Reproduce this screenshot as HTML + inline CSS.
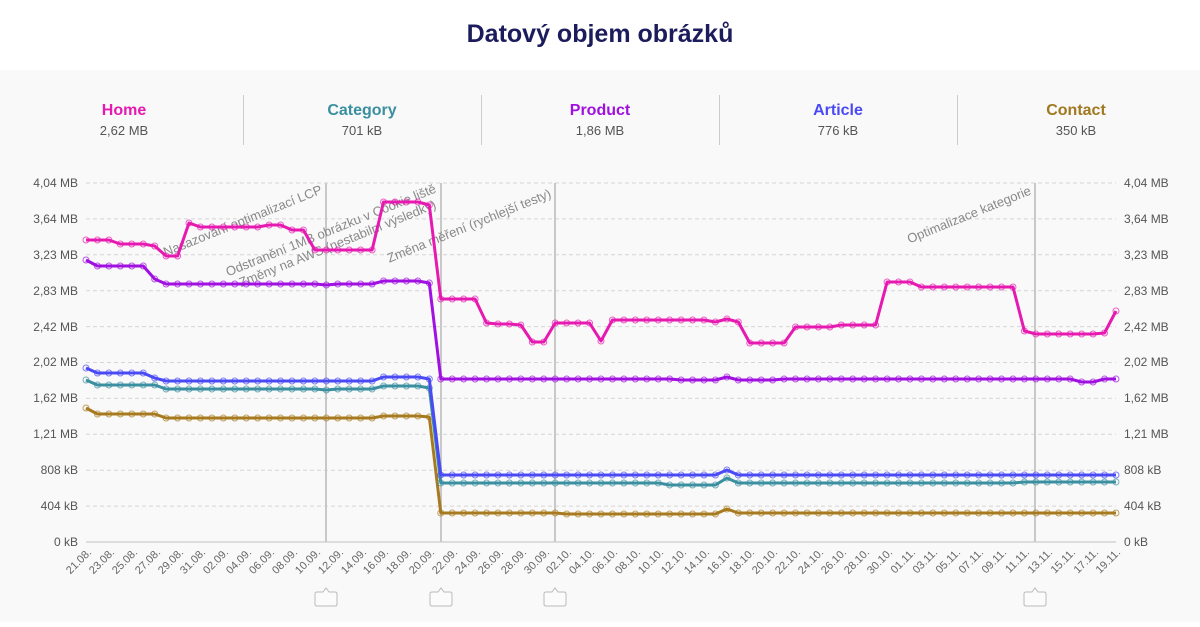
<!DOCTYPE html>
<html><head><meta charset="utf-8"><style>
body{margin:0;width:1200px;height:622px;overflow:hidden;background:#fff;font-family:"Liberation Sans",sans-serif}
</style></head><body>
<svg id="s" width="1200" height="622" xmlns="http://www.w3.org/2000/svg" font-family="Liberation Sans, sans-serif">
<rect x="0" y="70" width="1200" height="552" fill="#f9f9f9"/>
<text x="600" y="42" text-anchor="middle" font-size="25" font-weight="bold" fill="#1c1c5c">Datový objem obrázků</text>
<g font-size="16" font-weight="bold" text-anchor="middle">
<text x="124" y="115" fill="#e619b0">Home</text>
<text x="362" y="115" fill="#3a8fa0">Category</text>
<text x="600" y="115" fill="#a010e0">Product</text>
<text x="838" y="115" fill="#4a4af5">Article</text>
<text x="1076" y="115" fill="#a07820">Contact</text>
</g>
<g font-size="13" text-anchor="middle" fill="#555">
<text x="124" y="135">2,62 MB</text><text x="362" y="135">701 kB</text><text x="600" y="135">1,86 MB</text><text x="838" y="135">776 kB</text><text x="1076" y="135">350 kB</text>
</g>
<g stroke="#ccc" stroke-width="1"><line x1="243.5" y1="95" x2="243.5" y2="145"/><line x1="481.5" y1="95" x2="481.5" y2="145"/><line x1="719.5" y1="95" x2="719.5" y2="145"/><line x1="957.5" y1="95" x2="957.5" y2="145"/></g>
<g id="grid" stroke="#d5d5d5" stroke-dasharray="4,3"></g>
<line x1="86" y1="542" x2="1116" y2="542" stroke="#ddd" stroke-width="2"/>
<g stroke="#c8c8c8" stroke-width="2"><line x1="326" y1="183" x2="326" y2="542"/><line x1="441" y1="183" x2="441" y2="542"/><line x1="555" y1="183" x2="555" y2="542"/><line x1="1035" y1="183" x2="1035" y2="542"/></g>
<g font-size="12" fill="#555" text-anchor="end">
<text x="78" y="187">4,04 MB</text><text x="78" y="223">3,64 MB</text><text x="78" y="259">3,23 MB</text><text x="78" y="295">2,83 MB</text><text x="78" y="331">2,42 MB</text><text x="78" y="366">2,02 MB</text><text x="78" y="402">1,62 MB</text><text x="78" y="438">1,21 MB</text><text x="78" y="474">808 kB</text><text x="78" y="510">404 kB</text><text x="78" y="546">0 kB</text>
</g>
<g font-size="12" fill="#555">
<text x="1124" y="187">4,04 MB</text><text x="1124" y="223">3,64 MB</text><text x="1124" y="259">3,23 MB</text><text x="1124" y="295">2,83 MB</text><text x="1124" y="331">2,42 MB</text><text x="1124" y="366">2,02 MB</text><text x="1124" y="402">1,62 MB</text><text x="1124" y="438">1,21 MB</text><text x="1124" y="474">808 kB</text><text x="1124" y="510">404 kB</text><text x="1124" y="546">0 kB</text>
</g>
<g font-size="13" fill="#888">
<text transform="translate(323,193) rotate(-22)" text-anchor="end">Nasazování optimalizací LCP</text>
<text transform="translate(437,192) rotate(-22)" text-anchor="end">Odstranění 1MB obrázku v Cookie liště</text>
<text transform="translate(437,208) rotate(-22)" text-anchor="end">Změny na AWS (nestabilní výsledky)</text>
<text transform="translate(552,197) rotate(-22)" text-anchor="end">Změna měření (rychlejší testy)</text>
<text transform="translate(1032,194) rotate(-22)" text-anchor="end">Optimalizace kategorie</text>
</g>
<g id="xl" font-size="11" fill="#666" text-anchor="end">
<text transform="translate(92,553) rotate(-45)">21.08.</text><text transform="translate(115,553) rotate(-45)">23.08.</text><text transform="translate(138,553) rotate(-45)">25.08.</text><text transform="translate(161,553) rotate(-45)">27.08.</text><text transform="translate(184,553) rotate(-45)">29.08.</text><text transform="translate(206,553) rotate(-45)">31.08.</text><text transform="translate(229,553) rotate(-45)">02.09.</text><text transform="translate(252,553) rotate(-45)">04.09.</text><text transform="translate(275,553) rotate(-45)">06.09.</text><text transform="translate(298,553) rotate(-45)">08.09.</text><text transform="translate(321,553) rotate(-45)">10.09.</text><text transform="translate(344,553) rotate(-45)">12.09.</text><text transform="translate(367,553) rotate(-45)">14.09.</text><text transform="translate(389,553) rotate(-45)">16.09.</text><text transform="translate(412,553) rotate(-45)">18.09.</text><text transform="translate(435,553) rotate(-45)">20.09.</text><text transform="translate(458,553) rotate(-45)">22.09.</text><text transform="translate(481,553) rotate(-45)">24.09.</text><text transform="translate(504,553) rotate(-45)">26.09.</text><text transform="translate(527,553) rotate(-45)">28.09.</text><text transform="translate(550,553) rotate(-45)">30.09.</text><text transform="translate(572,553) rotate(-45)">02.10.</text><text transform="translate(595,553) rotate(-45)">04.10.</text><text transform="translate(618,553) rotate(-45)">06.10.</text><text transform="translate(641,553) rotate(-45)">08.10.</text><text transform="translate(664,553) rotate(-45)">10.10.</text><text transform="translate(687,553) rotate(-45)">12.10.</text><text transform="translate(710,553) rotate(-45)">14.10.</text><text transform="translate(733,553) rotate(-45)">16.10.</text><text transform="translate(755,553) rotate(-45)">18.10.</text><text transform="translate(778,553) rotate(-45)">20.10.</text><text transform="translate(801,553) rotate(-45)">22.10.</text><text transform="translate(824,553) rotate(-45)">24.10.</text><text transform="translate(847,553) rotate(-45)">26.10.</text><text transform="translate(870,553) rotate(-45)">28.10.</text><text transform="translate(893,553) rotate(-45)">30.10.</text><text transform="translate(916,553) rotate(-45)">01.11.</text><text transform="translate(938,553) rotate(-45)">03.11.</text><text transform="translate(961,553) rotate(-45)">05.11.</text><text transform="translate(984,553) rotate(-45)">07.11.</text><text transform="translate(1007,553) rotate(-45)">09.11.</text><text transform="translate(1030,553) rotate(-45)">11.11.</text><text transform="translate(1053,553) rotate(-45)">13.11.</text><text transform="translate(1076,553) rotate(-45)">15.11.</text><text transform="translate(1099,553) rotate(-45)">17.11.</text><text transform="translate(1121,553) rotate(-45)">19.11.</text>
</g>
<g id="ic" fill="#fbfbfb" stroke="#bbb" stroke-width="1"></g>
<g id="ser"></g>
</svg>
<script>
var NS="http://www.w3.org/2000/svg",s=document.getElementById('s');
function el(p,t,a){var e=document.createElementNS(NS,t);for(var k in a)e.setAttribute(k,a[k]);p.appendChild(e);return e;}
var g=document.getElementById('grid');
for(var i=0;i<10;i++){var y=183+i*35.9;el(g,'line',{x1:86,x2:1116,y1:y,y2:y});}
var ic=document.getElementById('ic');
[326,441,555,1035].forEach(function(x){el(ic,'path',{d:'M'+(x-9)+' 592 h6 l3 -4 l3 4 h6 q2 0 2 2 v10 q0 2 -2 2 h-18 q-2 0 -2 -2 v-10 q0 -2 2 -2z'});});
function build(segs){var a=[];segs.forEach(function(s){for(var d=s[0];d<=s[1];d++)a[d]=s[2];});return a;}
var series=[
['#a87a20',build([[0,0,408],[1,6,414],[7,25,418],[26,29,416],[30,30,417],[31,90,513],[56,56,509],[42,55,514]])],
['#3a8fa0',build([[0,0,380],[1,6,385],[7,25,389],[21,21,390],[26,29,386],[30,30,388],[31,90,483],[51,55,485],[56,56,478],[82,90,482]])],
['#4a4af5',build([[0,0,368],[1,5,373],[6,6,378],[7,25,381],[26,29,377],[30,30,379],[31,90,475],[56,56,470]])],
['#a010e0',build([[0,0,260],[1,5,266],[6,6,279],[7,25,284],[21,21,285],[26,29,281],[30,30,283],[31,90,379],[52,60,380],[56,56,377],[87,88,382]])],
['#e619b0',build([[0,2,240],[3,5,244],[6,6,246],[7,8,256],[9,9,223],[10,15,227],[16,17,225],[18,19,230],[20,25,250],[26,29,202],[30,30,205],[31,34,299],[35,35,323],[36,37,324],[38,38,325],[39,40,342],[41,44,323],[45,45,341],[46,54,320],[55,55,322],[56,56,319],[57,57,322],[58,61,343],[62,65,327],[66,69,325],[70,72,282],[73,81,287],[82,82,331],[83,88,334],[89,89,333],[90,90,311]])]
];
var ser=document.getElementById('ser');
series.forEach(function(sr){var pts=sr[1].map(function(y,d){return (86+d*11.444).toFixed(1)+','+y;}).join(' ');
el(ser,'polyline',{points:pts,fill:'none',stroke:sr[0],'stroke-width':3,'stroke-linejoin':'round'});
sr[1].forEach(function(y,d){el(ser,'circle',{cx:86+d*11.444,cy:y,r:3,fill:'none',stroke:sr[0],'stroke-width':1,opacity:0.7});});});
</script>
</body></html>
